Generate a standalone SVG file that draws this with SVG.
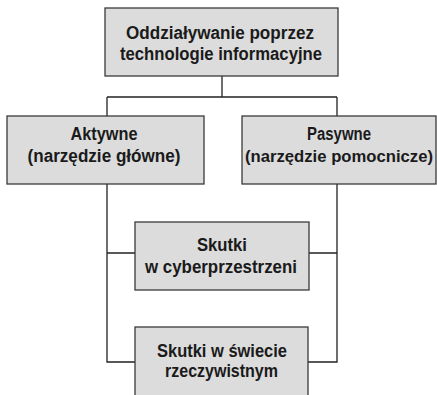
<svg xmlns="http://www.w3.org/2000/svg" width="437" height="395" viewBox="0 0 437 395">
<style>
.box{fill:#dcdcdc;stroke:#3a3a3a;stroke-width:1.3}
.ln{fill:none;stroke:#222;stroke-width:1.3}
text{font-family:"Liberation Sans",Arial,sans-serif;font-weight:bold;font-size:17.5px;fill:#1a1a1a;text-anchor:middle}
</style>
<rect width="437" height="395" fill="#fff"/>
<g id="connectors">
<path class="ln" d="M222,76 V97 M107,97 H337 M107,97 V116 M337,97 V116"/>
<path class="ln" d="M107,184 V362 H135 M107,253 H135 M337,184 V362 H308 M337,253 H309"/>
</g>
<g id="top">
<rect class="box" x="105" y="8" width="233" height="68"/>
<text x="220" y="38.5" textLength="188" lengthAdjust="spacingAndGlyphs">Oddziaływanie poprzez</text>
<text x="221" y="59.5" textLength="202" lengthAdjust="spacingAndGlyphs">technologie informacyjne</text>
</g>
<g id="aktywne">
<rect class="box" x="7" y="116" width="197" height="68"/>
<text x="104" y="139.5" textLength="67" lengthAdjust="spacingAndGlyphs">Aktywne</text>
<text x="104" y="161.5" textLength="153" lengthAdjust="spacingAndGlyphs">(narzędzie główne)</text>
</g>
<g id="pasywne">
<rect class="box" x="242" y="116" width="194" height="68"/>
<text x="339" y="139.5" textLength="64" lengthAdjust="spacingAndGlyphs">Pasywne</text>
<text x="339" y="161.5" style="font-size:16.5px" textLength="188" lengthAdjust="spacingAndGlyphs">(narzędzie pomocnicze)</text>
</g>
<g id="cyber">
<rect class="box" x="135" y="222" width="174" height="68"/>
<text x="222" y="250.5" textLength="50" lengthAdjust="spacingAndGlyphs">Skutki</text>
<text x="221" y="273" textLength="152" lengthAdjust="spacingAndGlyphs">w cyberprzestrzeni</text>
</g>
<g id="swiat">
<rect class="box" x="135" y="327" width="173" height="75"/>
<text x="222" y="357" textLength="130" lengthAdjust="spacingAndGlyphs">Skutki w świecie</text>
<text x="221.5" y="377" textLength="113" lengthAdjust="spacingAndGlyphs">rzeczywistnym</text>
</g>
</svg>
